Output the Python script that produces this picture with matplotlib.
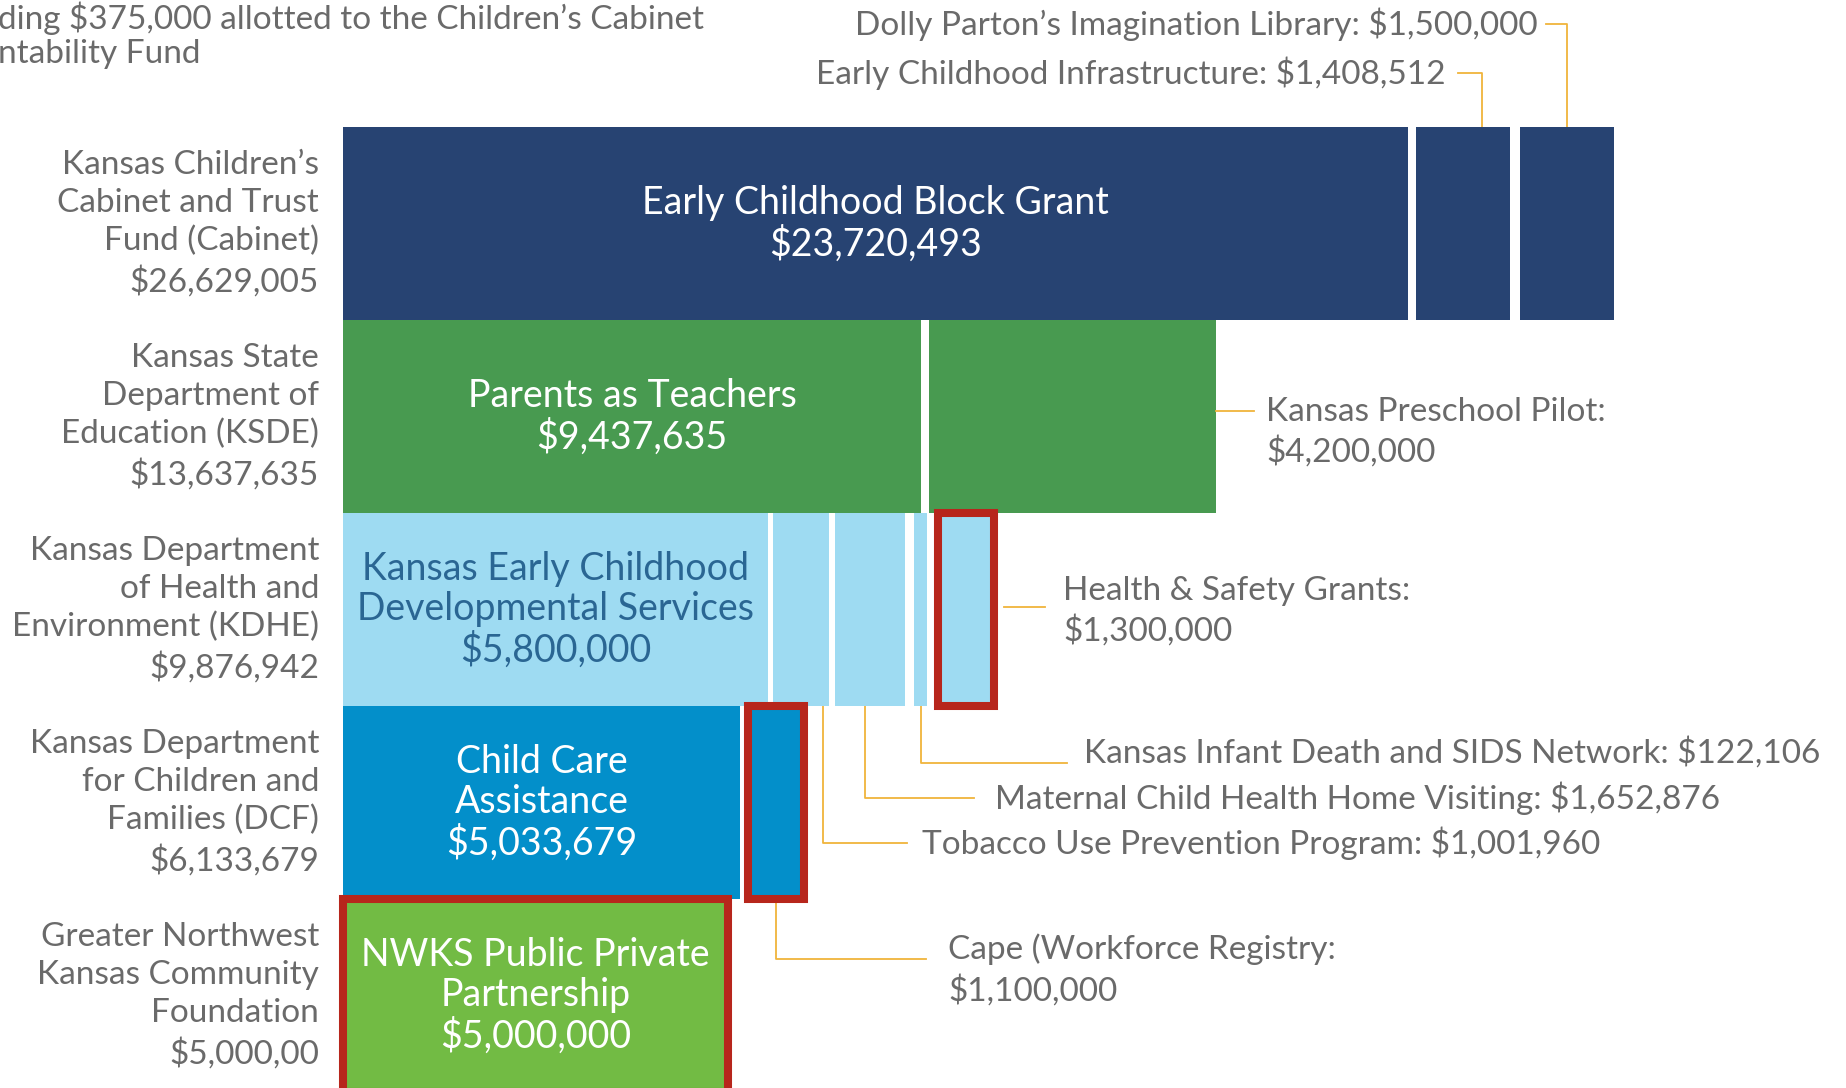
import numpy as np
import matplotlib.pyplot as plt

# ---- data read off the graphic ----
# funding sources (one row each, top to bottom)
source_labels = [
    "Kansas Children\u2019s\nCabinet and Trust\nFund (Cabinet)\n$26,629,005",
    "Kansas State\nDepartment of\nEducation (KSDE)\n$13,637,635",
    "Kansas Department\nof Health and\nEnvironment (KDHE)\n$9,876,942",
    "Kansas Department\nfor Children and\nFamilies (DCF)\n$6,133,679",
    "Greater Northwest\nKansas Community\nFoundation\n$5,000,00",
]

# drawn length of every segment (the graphic is not to dollar scale)
cabinet_len = [1065, 94, 94]
ksde_len = [578, 287]
kdhe_len = [425, 56, 70, 13, 56]
dcf_len = [397, 56]
gnkcf_len = [385]

# labels printed inside the big segments
inside_labels = [
    "Early Childhood Block Grant\n$23,720,493",
    "Parents as Teachers\n$9,437,635",
    "Kansas Early Childhood\nDevelopmental Services\n$5,800,000",
    "Child Care\nAssistance\n$5,033,679",
    "NWKS Public Private\nPartnership\n$5,000,000",
]

# call-out labels for the small programs
dolly_label = "Dolly Parton\u2019s Imagination Library: $1,500,000"
infra_label = "Early Childhood Infrastructure: $1,408,512"
preschool_label = "Kansas Preschool Pilot:\n$4,200,000"
hs_label = "Health & Safety Grants:\n$1,300,000"
sids_label = "Kansas Infant Death and SIDS Network: $122,106"
mchv_label = "Maternal Child Health Home Visiting: $1,652,876"
tobacco_label = "Tobacco Use Prevention Program: $1,001,960"
cape_label = "Cape (Workforce Registry:\n$1,100,000"

note_lines = ["ding $375,000 allotted to the Children\u2019s Cabinet", "ntability Fund"]

# ---- layout / style ----
rows = [cabinet_len, ksde_len, kdhe_len, dcf_len, gnkcf_len]
gaps = [[8, 10], [8], [5, 6, 9, 11], [8], []]
row_colors = ["#274372", "#489A50", "#9EDBF2", "#038FCA", "#72BB44"]
inside_colors = ["white", "white", "#2A6693", "white", "white"]
boxed = {(2, 4), (3, 1), (4, 0)}
red = "#B7261C"
gold = "#F0B43C"
gray = "#6A6A6A"
x0 = 343
row_top, row_h = 127, 193
fs = 24      # call-out / source label size
fs_in = 27   # label size inside segments
ls = 1.34


def fy(p):
    # pixel row of the picture -> row units of the axes
    return (p - row_top) / row_h - 0.5


plt.rcParams['font.family'] = ['Lato', 'DejaVu Sans']
fig = plt.figure(figsize=(18.46, 10.88), dpi=100)
ax = fig.add_axes([0, 0, 1, 1])
ax.set_xlim(0, 1846)
ax.set_ylim(fy(1088), fy(0))
ax.axis('off')

seg_box = {}
for r, lens in enumerate(rows):
    left = x0
    for s, w in enumerate(lens):
        if (r, s) in boxed:
            ax.barh(r, w, left=left, height=1.0, color=row_colors[r],
                    edgecolor=red, linewidth=5.8, zorder=3)
        else:
            ax.barh(r, w, left=left, height=1.0, color=row_colors[r],
                    linewidth=0, zorder=2)
        seg_box[(r, s)] = (left, left + w)
        if s < len(gaps[r]):
            left += w + gaps[r][s]
    a, b = seg_box[(r, 0)]
    ax.text((a + b) / 2, r, inside_labels[r], ha='center', va='center',
            color=inside_colors[r], fontsize=fs_in, linespacing=1.14, zorder=4)
    ax.text(x0 - 24, r, source_labels[r], ha='right', va='center',
            color=gray, fontsize=fs, linespacing=ls)

# top-left note (cut off in the original)
ax.text(-2, fy(18), note_lines[0], ha='left', va='center', color=gray, fontsize=fs)
ax.text(-2, fy(54), note_lines[1], ha='left', va='center', color=gray, fontsize=fs)


def leader_down(seg, frac, y_end, x_end, top=False):
    a, b = seg_box[seg]
    xa = a + frac * (b - a)
    r = seg[0]
    y_start = r - 0.5 if top else r + 0.5
    ax.plot([xa, xa, x_end], [y_start, fy(y_end), fy(y_end)], color=gold, lw=1.3, zorder=1)


# call-outs above the cabinet row
leader_down((0, 2), 0.5, 24, 1546, top=True)
ax.text(1538, fy(24), dolly_label, ha='right', va='center', color=gray, fontsize=fs)
leader_down((0, 1), 0.7, 73, 1458, top=True)
ax.text(1446, fy(73), infra_label, ha='right', va='center', color=gray, fontsize=fs)

# preschool pilot
a, b = seg_box[(1, 1)]
ax.plot([b, 1254], [fy(411), fy(411)], color=gold, lw=1.3)
ax.text(1266, fy(432), preschool_label, ha='left', va='center', color=gray,
        fontsize=fs, linespacing=ls)

# health & safety
a, b = seg_box[(2, 4)]
ax.plot([b + 10, 1045], [fy(607), fy(607)], color=gold, lw=1.3)
ax.text(1063, fy(611), hs_label, ha='left', va='center', color=gray,
        fontsize=fs, linespacing=ls)

# small KDHE programs
leader_down((2, 3), 0.5, 763, 1067)
ax.text(1084, fy(753), sids_label, ha='left', va='center', color=gray, fontsize=fs)
leader_down((2, 2), 0.43, 798, 974)
ax.text(995, fy(798), mchv_label, ha='left', va='center', color=gray, fontsize=fs)
leader_down((2, 1), 0.9, 843, 907)
ax.text(922, fy(843), tobacco_label, ha='left', va='center', color=gray, fontsize=fs)

# cape
leader_down((3, 1), 0.5, 959, 926)
ax.text(948, fy(970), cape_label, ha='left', va='center', color=gray,
        fontsize=fs, linespacing=ls)

fig.savefig('out.png', dpi=100)
